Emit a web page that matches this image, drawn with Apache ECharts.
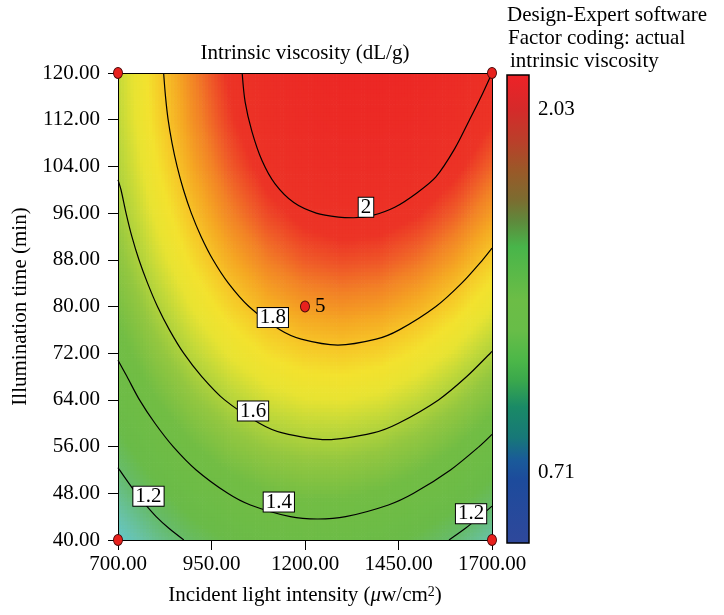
<!DOCTYPE html>
<html>
<head>
<meta charset="utf-8">
<script src="https://cdn.jsdelivr.net/npm/echarts@6/dist/echarts.min.js"></script>
<style>html,body{margin:0;padding:0;background:#fff;}#chart{width:724px;height:615px;}</style>
</head>
<body>
<div id="chart"></div>
<script>
// ---------- data ----------
const xValues = [700, 800, 900, 1000, 1100, 1200, 1300, 1400, 1500, 1600, 1700];
const yValues = [40, 48, 56, 64, 72, 80, 88, 96, 104, 112, 120];
// rows follow yValues (40 -> 120), columns follow xValues (700 -> 1700)
const viscosity = [
  [1.035, 1.140, 1.223, 1.284, 1.323, 1.340, 1.335, 1.308, 1.259, 1.188, 1.095],
  [1.145, 1.253, 1.339, 1.404, 1.446, 1.466, 1.464, 1.441, 1.395, 1.327, 1.237],
  [1.243, 1.355, 1.444, 1.512, 1.557, 1.580, 1.582, 1.561, 1.519, 1.454, 1.368],
  [1.331, 1.446, 1.539, 1.609, 1.658, 1.684, 1.689, 1.672, 1.632, 1.571, 1.488],
  [1.408, 1.526, 1.622, 1.695, 1.747, 1.777, 1.785, 1.771, 1.734, 1.676, 1.596],
  [1.473, 1.594, 1.693, 1.770, 1.825, 1.858, 1.869, 1.858, 1.825, 1.770, 1.693],
  [1.528, 1.652, 1.754, 1.834, 1.892, 1.929, 1.943, 1.935, 1.905, 1.853, 1.780],
  [1.571, 1.698, 1.804, 1.887, 1.948, 1.988, 2.005, 2.000, 1.974, 1.925, 1.855],
  [1.604, 1.734, 1.843, 1.929, 1.994, 2.036, 2.057, 2.055, 2.032, 1.987, 1.919],
  [1.626, 1.760, 1.871, 1.961, 2.029, 2.075, 2.098, 2.100, 2.080, 2.038, 1.973],
  [1.636, 1.772, 1.887, 1.980, 2.051, 2.100, 2.127, 2.132, 2.115, 2.076, 2.015]
];
const contour20 = [[1032,120],[1040,115],[1058,110],[1085,105],[1120,101],[1170,97.8],[1230,96],[1290,95.3],[1330,95.2],[1380,95.6],[1440,97],[1500,99.5],[1550,102.2],[1600,107],[1640,112],[1675,116.5],[1700,120]];
const contour18 = [[822,120],[827,116],[834,112],[844.5,108],[858,104],[875,100],[896,96],[922,92],[954,88],[995,84],[1050,80],[1133,76],[1190,74.4],[1288,73.4],[1390,74.4],[1452,76],[1550,80],[1619,84],[1675,88],[1700,90]];
const contour16 = [[700,101.7],[708,100],[721.5,96],[737,92],[756,88],[779,84],[805.5,80],[837.5,76],[875.5,72],[924,68],[985,64],[1078,60],[1137,58.4],[1258.5,57.2],[1385,58.4],[1450,60],[1557,64],[1632.5,68],[1695.5,72],[1700,72.3]];
const contour14 = [[700,70.8],[724,68],[757.5,64],[798.75,60],[847.5,56],[909,52],[993.5,48],[1054,46],[1160.75,44],[1234,43.6],[1308.75,44],[1423,46],[1490.5,48],[1589,52],[1665.5,56],[1700,58.1]];
const contour12Left = [[700,52.4],[704,52],[748.5,48],[774,46],[802,44],[836,42],[876,40]];
const contour12Right = [[1585,40],[1629,42],[1667.5,44],[1700,45.8]];
const contourLabels = [[1363,97,'2'],[1114,78.1,'1.8'],[1061,62.1,'1.6'],[1130,46.5,'1.4'],[781.5,47.5,'1.2'],[1644,44.5,'1.2']];
const designPoints = [[700,40],[700,120],[1700,40],[1700,120],[1200,80]];
const designPointLabels = ['', '', '', '', '5'];
const xTickValues = [700, 950, 1200, 1450, 1700];
const legendLines = ['Design-Expert software', 'Factor coding: actual', 'intrinsic viscosity'];
const colorbarLabels = ['2.03', '0.71'];

// ---------- styles ----------
const FONT = 'Liberation Serif';
const FS = 21;
const rampStops = [
  [1.00, '#5fc8dc'], [1.10, '#68c2a8'], [1.20, '#66bb6a'], [1.28, '#6abb48'],
  [1.45, '#72bd44'], [1.55, '#94c740'], [1.63, '#c0d83a'], [1.69, '#e8e332'],
  [1.74, '#f3e22e'], [1.79, '#f6c828'], [1.84, '#f5a823'], [1.89, '#f28226'],
  [1.93, '#ef5a28'], [1.97, '#ec3426'], [2.20, '#ec2225']
];
function hex2rgb(h){return [parseInt(h.substr(1,2),16),parseInt(h.substr(3,2),16),parseInt(h.substr(5,2),16)];}
const rampRGB = rampStops.map(s => [s[0], hex2rgb(s[1])]);
function rampColor(v){
  if (v <= rampRGB[0][0]) return 'rgb(' + rampRGB[0][1].join(',') + ')';
  for (let k = 1; k < rampRGB.length; k++) {
    if (v <= rampRGB[k][0]) {
      const a = rampRGB[k-1], b = rampRGB[k];
      const t = (v - a[0]) / (b[0] - a[0]);
      const c = a[1].map((q, i) => Math.round(q + (b[1][i] - q) * t));
      return 'rgb(' + c.join(',') + ')';
    }
  }
  return 'rgb(' + rampRGB[rampRGB.length-1][1].join(',') + ')';
}

// cells built from the grid
const cells = [];
for (let j = 0; j < yValues.length - 1; j++) {
  for (let i = 0; i < xValues.length - 1; i++) {
    cells.push([xValues[i], yValues[j], xValues[i+1], yValues[j+1],
      viscosity[j][i], viscosity[j][i+1], viscosity[j+1][i], viscosity[j+1][i+1]]);
  }
}

function renderCell(params, api) {
  const p0 = api.coord([api.value(0), api.value(1)]);
  const p1 = api.coord([api.value(2), api.value(3)]);
  const v00 = api.value(4), v10 = api.value(5), v01 = api.value(6), v11 = api.value(7);
  const N = 12, M = 12;
  const w = (p1[0] - p0[0]) / N, h = (p0[1] - p1[1]) / M;
  const children = [];
  for (let a = 0; a < N; a++) {
    for (let b = 0; b < M; b++) {
      const u = (a + 0.5) / N, t = (b + 0.5) / M;
      const val = v00*(1-u)*(1-t) + v10*u*(1-t) + v01*(1-u)*t + v11*u*t;
      children.push({
        type: 'rect',
        shape: { x: p0[0] + a*w, y: p0[1] - (b+1)*h, width: w + 0.7, height: h + 0.7 },
        style: { fill: rampColor(val) }
      });
    }
  }
  return { type: 'group', children: children };
}

const chart = echarts.init(document.getElementById('chart'), null, { renderer: 'canvas' });
const lineStyle = { color: '#000', width: 1.2 };
function contourSeries(d) {
  return { type: 'line', data: d, smooth: 0.3, symbol: 'none', lineStyle: lineStyle, z: 5, silent: true, clip: true };
}
const textFont = FS + 'px "' + FONT + '"';
const option = {
  animation: false,
  backgroundColor: '#fff',
  grid: { left: 118, top: 73, width: 374, height: 467, containLabel: false },
  xAxis: [{
    type: 'value', min: 700, max: 1700, z: 10,
    name: 'Incident light intensity ({mu|\u03bc}w/cm{sup|2})', nameLocation: 'middle', nameGap: 45,
    nameTextStyle: { fontFamily: FONT, fontSize: FS, color: '#000', rich: {
      mu: { fontFamily: FONT, fontSize: FS, fontStyle: 'italic', color: '#000' },
      sup: { fontFamily: FONT, fontSize: 14, color: '#000', verticalAlign: 'top', lineHeight: 14, padding: [0, 0, 8, 0] }
    } },
    axisLine: { show: true, lineStyle: { color: '#000', width: 1 } },
    axisTick: { show: true, inside: false, length: 10, customValues: xTickValues, lineStyle: { color: '#000' } },
    axisLabel: { customValues: xTickValues, formatter: v => Number(v).toFixed(2), fontFamily: FONT, fontSize: FS, color: '#000', margin: 14 },
    splitLine: { show: false }
  }, {
    type: 'value', min: 700, max: 1700, position: 'top', z: 10,
    axisLine: { show: true, onZero: false, lineStyle: { color: '#000', width: 1 } },
    axisTick: { show: false }, axisLabel: { show: false }, splitLine: { show: false }
  }],
  yAxis: [{
    type: 'value', min: 40, max: 120, interval: 8, z: 10,
    name: 'Illumination time (min)', nameLocation: 'middle', nameGap: 80, nameRotate: 90,
    nameTextStyle: { fontFamily: FONT, fontSize: FS, color: '#000' },
    axisLine: { show: true, lineStyle: { color: '#000', width: 1 } },
    axisTick: { show: true, inside: false, length: 10, lineStyle: { color: '#000' } },
    axisLabel: { formatter: v => Number(v).toFixed(2), fontFamily: FONT, fontSize: FS, color: '#000', margin: 18 },
    splitLine: { show: false }
  }, {
    type: 'value', min: 40, max: 120, position: 'right', z: 10,
    axisLine: { show: true, onZero: false, lineStyle: { color: '#000', width: 1 } },
    axisTick: { show: false }, axisLabel: { show: false }, splitLine: { show: false }
  }],
  series: [
    {
      type: 'custom', data: cells, renderItem: renderCell, silent: true, z: 1, clip: true,
      encode: { x: [0, 2], y: [1, 3] }
    },
    contourSeries(contour20),
    contourSeries(contour18),
    contourSeries(contour16),
    contourSeries(contour14),
    contourSeries(contour12Left),
    contourSeries(contour12Right),
    {
      type: 'scatter', data: contourLabels, symbolSize: 2, z: 6, silent: true,
      itemStyle: { color: 'rgba(0,0,0,0)', opacity: 1 },
      label: {
        show: true, position: 'inside', formatter: p => p.value[2], opacity: 1,
        fontFamily: FONT, fontSize: FS, color: '#000', backgroundColor: '#ffffff',
        borderColor: '#000000', borderWidth: 1, padding: [1, 2, 0, 2], lineHeight: 18
      }
    },
    {
      type: 'scatter', z: 20, clip: false, silent: true,
      data: designPoints.map((p, i) => ({ value: p, label: { show: designPointLabels[i] !== '', formatter: designPointLabels[i] } })),
      symbol: 'circle', symbolSize: [9, 11],
      itemStyle: { color: '#e8211d', borderColor: '#4a0a0a', borderWidth: 1, opacity: 1 },
      label: { position: 'right', distance: 5, fontFamily: FONT, fontSize: FS, color: '#000' }
    }
  ],
  graphic: [
    { type: 'text', x: 305, y: 53, style: { text: 'Intrinsic viscosity (dL/g)', font: textFont, fill: '#000', align: 'center', verticalAlign: 'middle' } },
    { type: 'text', x: 507, y: 15, style: { text: legendLines[0], font: textFont, fill: '#000', align: 'left', verticalAlign: 'middle' } },
    { type: 'text', x: 508, y: 38, style: { text: legendLines[1], font: textFont, fill: '#000', align: 'left', verticalAlign: 'middle' } },
    { type: 'text', x: 510, y: 61, style: { text: legendLines[2], font: textFont, fill: '#000', align: 'left', verticalAlign: 'middle' } },
    {
      type: 'rect', shape: { x: 507, y: 75, width: 22, height: 468 },
      style: {
        stroke: '#000', lineWidth: 1.5,
        fill: new echarts.graphic.LinearGradient(0, 0, 0, 1, [
          { offset: 0, color: '#ee2227' }, { offset: 0.075, color: '#d52a2a' }, { offset: 0.145, color: '#b9402a' },
          { offset: 0.203, color: '#9b5828' }, { offset: 0.267, color: '#7c6c30' }, { offset: 0.314, color: '#5e8a3c' },
          { offset: 0.368, color: '#48b54a' }, { offset: 0.481, color: '#6cbd46' }, { offset: 0.545, color: '#68bd48' },
          { offset: 0.609, color: '#4cb748' }, { offset: 0.652, color: '#3aa84c' }, { offset: 0.709, color: '#1a8a66' },
          { offset: 0.774, color: '#177878' }, { offset: 0.823, color: '#1a5a9a' }, { offset: 0.865, color: '#1d4b9c' },
          { offset: 1, color: '#2f489b' }
        ])
      }
    },
    { type: 'text', x: 538, y: 109, style: { text: colorbarLabels[0], font: textFont, fill: '#000', align: 'left', verticalAlign: 'middle' } },
    { type: 'text', x: 538, y: 472, style: { text: colorbarLabels[1], font: textFont, fill: '#000', align: 'left', verticalAlign: 'middle' } }
  ]
};
chart.setOption(option);
</script>
</body>
</html>
